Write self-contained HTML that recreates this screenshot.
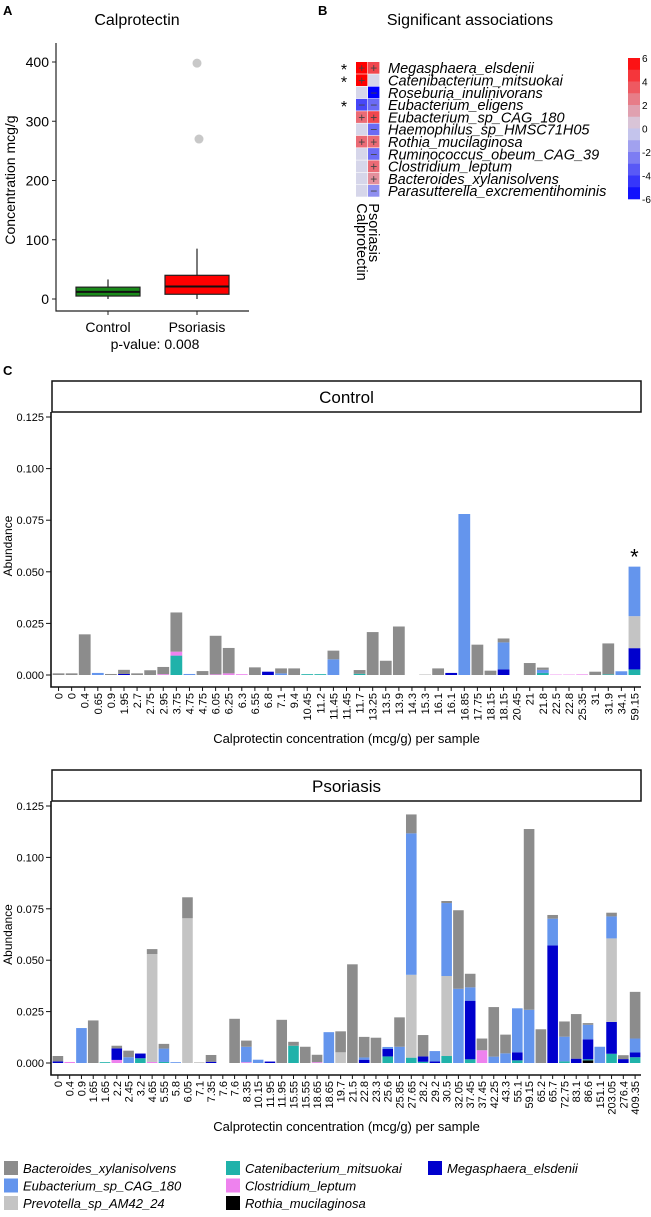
<!DOCTYPE html>
<html><head><meta charset="utf-8"><style>
body{margin:0;background:#fff}
svg text{font-family:"Liberation Sans",sans-serif}
</style></head><body>
<svg id="fig" width="651" height="1212" viewBox="0 0 651 1212" xmlns="http://www.w3.org/2000/svg">
<text x="3" y="15" font-weight="bold" font-size="13">A</text>
<text x="137" y="25" font-size="16" text-anchor="middle">Calprotectin</text>
<text x="318" y="15" font-weight="bold" font-size="13">B</text>
<text x="470" y="25" font-size="16" text-anchor="middle">Significant associations</text>
<text x="3" y="375" font-weight="bold" font-size="13">C</text>
<g id="gA"></g>
<g id="gB"></g>
<g id="gC"></g>
<g id="gP"></g>
<g id="gL"></g>
</svg>
<script>
// ---- Panel A data ----
const boxGroups=["Control","Psoriasis"];
const boxMin=[0,0], boxQ1=[5,8], boxMed=[12,21], boxQ3=[20,40], boxMax=[33,85];
const boxFill=["#1a8a1a","#ff0000"];
const outlierVals=[398,270];
const yTicksA=[0,100,200,300,400];
// ---- Panel B data ----
const hmRows=["Megasphaera_elsdenii","Catenibacterium_mitsuokai","Roseburia_inulinivorans","Eubacterium_eligens","Eubacterium_sp_CAG_180","Haemophilus_sp_HMSC71H05","Rothia_mucilaginosa","Ruminococcus_obeum_CAG_39","Clostridium_leptum","Bacteroides_xylanisolvens","Parasutterella_excrementihominis"];
const hmCols=["Calprotectin","Psoriasis"];
const hmCalpro=[6,6,0,-4,3,0,3,0,0,0,0];
const hmPsor=[4,0,-6,-3,4,-3,3,-3,3,2,-2];
const hmStars=[1,1,0,1,0,0,0,0,0,0,0];
const cbTicks=[6,4,2,0,-2,-4,-6];
// ---- Panel C data ----
const ctrlLabels=["0","0","0.4","0.65","0.9","1.95","2.7","2.75","2.95","3.75","4.75","4.75","6.05","6.25","6.3","6.55","6.8","7.1","9.4","10.45","11.2","11.45","11.45","11.7","13.25","13.5","13.9","14.3","15.3","16.1","16.1","16.85","17.75","18.15","18.15","20.45","21","21.8","22.5","22.8","25.35","31","31.9","34.1","59.15"];
const ctrlRothia=new Array(45).fill(0);
const ctrlCateni=[0,0,0,0,0, 0,0,0,0,0.0094, 0,0,0,0,0, 0,0,0,0,0.0004, 0.0004,0,0,0.0006,0, 0,0,0,0,0, 0,0,0,0,0, 0,0,0.001,0,0, 0,0,0.0003,0,0.0027];
const ctrlClostr=[0,0,0,0,0, 0,0,0,0.0004,0.0019, 0,0,0.0003,0.0008,0.0004, 0,0,0,0,0, 0,0,0,0,0, 0,0,0,0,0, 0,0,0,0,0, 0,0,0,0.0002,0.0002, 0.0003,0,0,0,0];
const ctrlMega=[0,0,0,0,0, 0.0005,0,0,0,0, 0,0,0,0,0, 0,0.0016,0,0,0, 0,0,0,0,0, 0,0,0,0,0, 0.001,0,0,0,0.0027, 0,0,0,0,0, 0,0,0,0,0.0103];
const ctrlPrevo=[0,0,0,0,0, 0,0,0,0,0, 0,0,0,0,0, 0,0,0,0,0, 0,0,0,0,0, 0,0,0,0.0003,0, 0,0,0,0,0, 0,0,0,0,0, 0,0,0,0,0.0155];
const ctrlEubac=[0,0,0,0.001,0, 0,0,0,0,0, 0.0005,0,0,0,0, 0,0,0.0008,0,0, 0,0.0076,0,0,0, 0,0,0,0,0, 0,0.078,0,0,0.0131, 0,0,0.0015,0,0, 0,0,0,0.0018,0.024];
const ctrlBact=[0.0008,0.0008,0.0197,0,0.0005, 0.002,0.0008,0.0023,0.0035,0.019, 0,0.0019,0.0187,0.0123,0, 0.0037,0,0.0024,0.0032,0, 0,0.0042,0,0.0018,0.0208, 0.0069,0.0235,0,0,0.0032, 0,0,0.0147,0.0021,0.0019, 0,0.0058,0.0011,0,0, 0,0.0016,0.015,0,0];
const psoLabels=["0","0.4","0.9","1.65","1.65","2.2","2.45","3.2","4.65","5.55","5.8","6.05","7.1","7.35","7.6","7.6","8.35","10.15","11.95","11.95","15.55","15.55","18.65","18.65","19.7","21.5","22.8","23.3","25.6","25.85","27.65","28.2","29.2","30.5","32.05","37.45","37.45","42.25","43.3","55.1","59.15","65.2","65.7","72.75","83.1","86.6","151.1","203.05","276.4","409.35"];
const psoRothia=[0,0,0,0,0, 0,0,0,0,0, 0,0,0,0,0, 0,0,0,0,0, 0,0,0,0,0, 0,0,0,0,0, 0,0,0,0,0, 0,0,0,0,0, 0,0,0,0,0, 0.0013,0,0,0,0];
const psoCateni=[0,0,0,0,0.0004, 0,0,0.0023,0,0.0005, 0,0,0,0,0, 0,0,0,0,0, 0.0084,0,0,0,0, 0,0,0,0.0032,0, 0.0026,0.0006,0,0.0034,0, 0.0018,0,0,0,0.0013, 0,0,0,0.0008,0, 0.0005,0,0.0045,0,0.0028];
const psoClostr=[0,0.0005,0,0,0, 0.0015,0,0,0.0005,0, 0,0,0,0,0, 0,0.0004,0,0,0, 0,0,0.0004,0,0, 0,0,0,0,0, 0,0,0,0,0, 0,0.0062,0,0,0, 0,0,0,0,0, 0,0,0,0,0];
const psoMega=[0.0008,0,0,0,0, 0.0056,0,0.0023,0,0, 0,0,0,0.0006,0, 0,0,0,0.0007,0, 0,0,0,0,0, 0,0.0016,0,0.0036,0, 0,0.0026,0.0008,0,0, 0.0285,0,0,0,0.0039, 0,0,0.0572,0,0.0021, 0.0097,0,0.0155,0.0019,0.0023];
const psoPrevo=[0,0,0,0,0, 0,0,0,0.0525,0, 0,0.0704,0.0004,0,0, 0,0,0,0,0, 0,0,0,0,0.0052, 0,0,0,0,0, 0.0403,0,0,0.0389,0, 0,0,0,0,0, 0,0,0,0,0, 0,0,0.0406,0,0];
const psoEubac=[0,0,0.017,0,0, 0,0.0028,0,0,0.0065, 0.0004,0,0,0,0, 0,0.0075,0.0016,0,0, 0,0,0,0.015,0, 0,0.0011,0,0.001,0.0079, 0.0688,0,0.005,0.0355,0.0361, 0.0065,0,0.0031,0.0047,0.0214, 0.0259,0,0.013,0.012,0, 0.0071,0.0079,0.0107,0,0.0068];
const psoBact=[0.0026,0,0,0.0207,0, 0.0013,0.0032,0,0.0024,0.0023, 0,0.0102,0,0.0033,0, 0.0215,0.003,0,0,0.021, 0.0019,0.0079,0.0036,0,0.0102, 0.048,0.01,0.0123,0,0.0143, 0.0092,0.0104,0,0.001,0.0382, 0.0066,0.0057,0.0241,0.0091,0, 0.0879,0.0164,0.0018,0.0074,0.0217, 0.0008,0,0.0018,0.0019,0.0227];
const abTicks=[0,0.025,0.05,0.075,0.1,0.125];
const abTickLabels=["0.000","0.025","0.050","0.075","0.100","0.125"];
const seriesNames=["Rothia_mucilaginosa","Catenibacterium_mitsuokai","Clostridium_leptum","Megasphaera_elsdenii","Prevotella_sp_AM42_24","Eubacterium_sp_CAG_180","Bacteroides_xylanisolvens"];
const seriesColors=["#000000","#20b2aa","#ee82ee","#0000cd","#c4c4c4","#6495ed","#8c8c8c"];

const NS="http://www.w3.org/2000/svg";
function mk(p,tag,attrs,txt){const e=document.createElementNS(NS,tag);for(const k in attrs)e.setAttribute(k,attrs[k]);if(txt!==undefined)e.textContent=txt;p.appendChild(e);return e;}

// ---- Panel A ----
(function(){
const g=document.getElementById('gA');
const yA=v=>299-v*237/400;
const xA=i=>108+i*89;
let ax=mk(g,'path',{d:'M56,43 V311 H249',fill:'none',stroke:'#222','stroke-width':1.2});


yTicksA.forEach(t=>{
 let tk=mk(g,'line',{x1:52,x2:56,y1:yA(t),y2:yA(t),stroke:'#222'});
 
 
 let tl=mk(g,'text',{x:49,y:yA(t)+5,'font-size':14,'text-anchor':'end'},t);
 
 
});
let yt=mk(g,'text',{x:0,y:0,'font-size':14,'text-anchor':'middle',transform:'translate(15,180) rotate(-90)'},'Concentration mcg/g');


boxGroups.forEach((n,i)=>{
 const x=xA(i);
 let w=mk(g,'line',{x1:x,x2:x,y1:yA(boxMin[i]),y2:yA(boxMax[i]),stroke:'#222','stroke-width':1.2});
 
 
 let b=mk(g,'rect',{x:x-32,y:yA(boxQ3[i]),width:64,height:yA(boxQ1[i])-yA(boxQ3[i]),fill:boxFill[i],stroke:'#222','stroke-width':1.2});
 
 
 let m=mk(g,'line',{x1:x-32,x2:x+32,y1:yA(boxMed[i]),y2:yA(boxMed[i]),stroke:'#111','stroke-width':2});
 
 
 let tk=mk(g,'line',{x1:x,x2:x,y1:311,y2:315,stroke:'#222'});
 
 
 let l=mk(g,'text',{x:x,y:332,'font-size':14,'text-anchor':'middle'},n);
 
 
});
outlierVals.forEach((v,k)=>{
 let c=mk(g,'circle',{cx:xA(1)+k*2,cy:yA(v),r:4.5,fill:'#c8c8c8'});
 
 
});
let pv=mk(g,'text',{x:155,y:349,'font-size':14,'text-anchor':'middle'},'p-value: 0.008');


})();

// ---- Panel B ----
(function(){
const g=document.getElementById('gB');
function col(v){
 const t=Math.max(-6,Math.min(6,v))/6;
 const n=[214,214,234];
 let c;
 if(t>=0){c=[n[0]+(255-n[0])*t,n[1]*(1-t),n[2]*(1-t)];}
 else{const a=-t;c=[n[0]*(1-a),n[1]*(1-a),n[2]+(255-n[2])*a];}
 return 'rgb('+c.map(Math.round).join(',')+')';
}
const x0=356,cw=12,y0=62,rh=12.3;
hmRows.forEach((r,i)=>{
 [hmCalpro[i],hmPsor[i]].forEach((v,j)=>{
  let c=mk(g,'rect',{x:x0+j*cw,y:y0+i*rh,width:cw-0.6,height:rh-0.6,fill:col(v)});
  
  
  if(v!==0){
   let s=mk(g,'text',{x:x0+j*cw+cw/2-0.3,y:y0+i*rh+rh/2+4,'font-size':12,'text-anchor':'middle',fill:'#444'},v>0?'+':'−');
   
   
  }
 });
 if(hmStars[i]){
  let st=mk(g,'text',{x:344,y:y0+i*rh+rh/2+7,'font-size':16,'text-anchor':'middle'},'*');
  
  
 }
 let l=mk(g,'text',{x:388,y:y0+i*rh+rh/2+5,'font-size':14.5,'font-style':'italic'},r);
 
 
});
hmCols.forEach((c,j)=>{
 let l=mk(g,'text',{x:0,y:0,'font-size':14.5,transform:'translate('+(x0+j*cw+1)+','+(y0+hmRows.length*rh+6)+') rotate(90)'},c);
 
 
});
const cbTop=58,cbBot=199,steps=12;
for(let s=0;s<steps;s++){
 const v=6-(s+0.5)*12/steps;
 let r=mk(g,'rect',{x:628,y:cbTop+s*(cbBot-cbTop)/steps,width:12,height:(cbBot-cbTop)/steps+0.3,fill:col(v)});
 
 
}
cbTicks.forEach(t=>{
 let l=mk(g,'text',{x:642,y:cbTop+(6-t)/12*(cbBot-cbTop)+4,'font-size':10},t);
 
 
});
})();

// ---- Panel C ----
function barPanel(gid,title,labels,series,stripTop,y0px,y125px,axisY,star){
 const g=document.getElementById(gid);
 const L=52,R=641,n=labels.length,bw=(R-L)/n;
 const y=v=>y0px-v*(y0px-y125px)/0.125;
 const x=i=>L+bw*(i+0.5);
 let sb=mk(g,'rect',{x:L,y:stripTop,width:R-L,height:31,fill:'#fff',stroke:'#111','stroke-width':1.5});
 
 
 let st=mk(g,'text',{x:(L+R)/2,y:stripTop+22,'font-size':17,'text-anchor':'middle'},title);
 
 
 let ax=mk(g,'path',{d:'M51,'+(stripTop+31)+' V'+axisY+' H'+R,fill:'none',stroke:'#111','stroke-width':1.6});
 
 
 abTicks.forEach((t,k)=>{
  let tk=mk(g,'line',{x1:46,x2:51,y1:y(t),y2:y(t),stroke:'#111'});
  
  
  let tl=mk(g,'text',{x:44,y:y(t)+4,'font-size':11,'text-anchor':'end'},abTickLabels[k]);
  
  
 });
 let yt=mk(g,'text',{x:0,y:0,'font-size':12,'text-anchor':'middle',transform:'translate(12,'+((y0px+y125px)/2)+') rotate(-90)'},'Abundance');
 
 
 labels.forEach((lab,i)=>{
  let cum=0;
  series.forEach((arr,s)=>{
   const v=arr[i];
   if(v>0){
    let r=mk(g,'rect',{x:x(i)-bw*0.45,y:y(cum+v),width:bw*0.9,height:y(cum)-y(cum+v),fill:seriesColors[s]});
    
    
    cum+=v;
   }
  });
  let tk=mk(g,'line',{x1:x(i),x2:x(i),y1:axisY,y2:axisY+4,stroke:'#111'});
  
  
  let tl=mk(g,'text',{x:0,y:0,'font-size':11,'text-anchor':'end',transform:'translate('+(x(i)+4)+','+(axisY+6)+') rotate(-90)'},lab);
  
  
  if(star&&i===n-1){
   const tot=series.reduce((a,arr)=>a+arr[i],0);
   let s=mk(g,'text',{x:x(i),y:y(tot)-2,'font-size':22,'text-anchor':'middle'},'*');
   
   
  }
 });
 let xt=mk(g,'text',{x:(L+R)/2,y:axisY+56,'font-size':13,'text-anchor':'middle'},'Calprotectin concentration (mcg/g) per sample');
 
 
}
barPanel('gC','Control',ctrlLabels,[ctrlRothia,ctrlCateni,ctrlClostr,ctrlMega,ctrlPrevo,ctrlEubac,ctrlBact],381,675,417,687,true);
barPanel('gP','Psoriasis',psoLabels,[psoRothia,psoCateni,psoClostr,psoMega,psoPrevo,psoEubac,psoBact],770,1063,806,1075,false);

// ---- Legend ----
(function(){
const g=document.getElementById('gL');
const order=[6,5,4,1,2,0,3];
const cols=[4,226,428];
order.forEach((s,k)=>{
 const c=Math.floor(k/3),r=k%3;
 const yy=1161+r*17.5;
 let sq=mk(g,'rect',{x:cols[c],y:yy,width:14,height:14,fill:seriesColors[s]});
 
 
 let t=mk(g,'text',{x:cols[c]+19,y:yy+12,'font-size':13,'font-style':'italic'},seriesNames[s]);
 
 
});
})();
</script>
</body></html>
